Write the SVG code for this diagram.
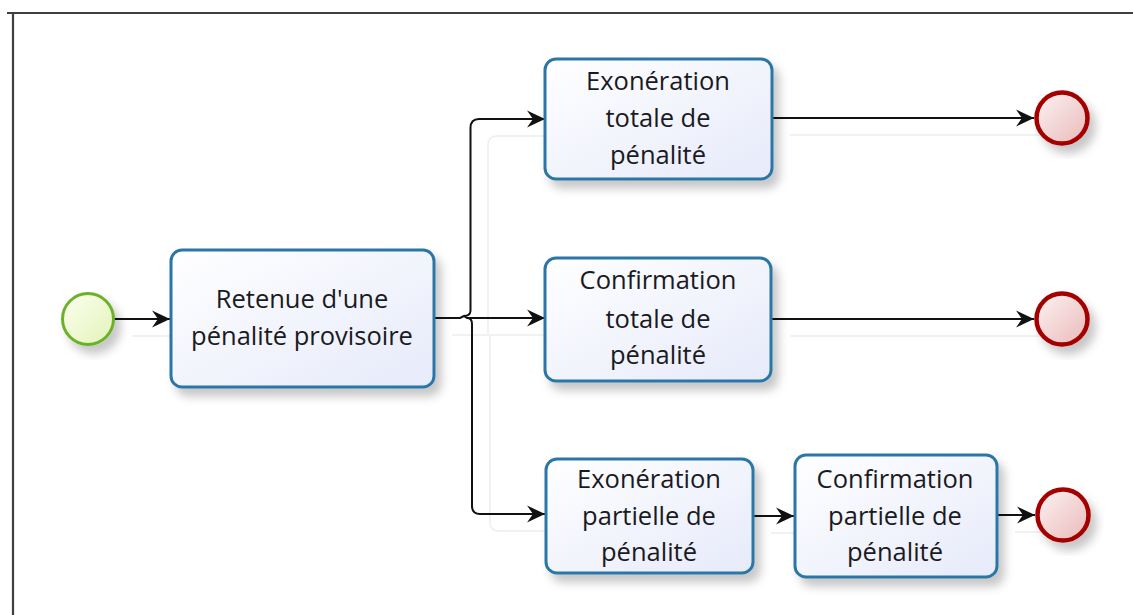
<svg xmlns="http://www.w3.org/2000/svg" width="1133" height="615" viewBox="0 0 1133 615">
  <defs>
    <style>
      .task { fill: url(#taskFill); stroke: #2b77a7; stroke-width: 3; filter: url(#shadow); }
      .label { font-family: "Open Sans", "Noto Sans", sans-serif; font-size: 25.5px; fill: #1a1a22; text-anchor: middle; }
      .flow { fill: none; stroke: #111; stroke-width: 2; }
      .flow-shadow { fill: none; stroke: #eeeeee; stroke-width: 1.5; }
      .start { fill: url(#startFill); stroke: #6cb12a; stroke-width: 3; filter: url(#shadow); }
      .end { fill: url(#endFill); stroke: #a40004; stroke-width: 4.5; filter: url(#shadow); }
      .frame { fill: none; stroke: #3f3f3f; stroke-width: 2.2; }
    </style>
    <linearGradient id="taskFill" x1="0" y1="0" x2="1" y2="1">
      <stop offset="0" stop-color="#ffffff"/>
      <stop offset="1" stop-color="#e6eafa"/>
    </linearGradient>
    <linearGradient id="startFill" x1="0" y1="0" x2="1" y2="1">
      <stop offset="0" stop-color="#fbfff0"/>
      <stop offset="1" stop-color="#e3f3b8"/>
    </linearGradient>
    <linearGradient id="endFill" x1="0" y1="0" x2="1" y2="1">
      <stop offset="0" stop-color="#fdf3f3"/>
      <stop offset="1" stop-color="#eab9b9"/>
    </linearGradient>
    <filter id="shadow" x="-20%" y="-20%" width="150%" height="150%">
      <feDropShadow dx="6" dy="8" stdDeviation="5" flood-color="#000" flood-opacity="0.22"/>
    </filter>
    <marker id="arrow" markerWidth="20" markerHeight="18" refX="18" refY="9" orient="auto" markerUnits="userSpaceOnUse">
      <path d="M0,0.5 L18,9 L0,17.5 L6,9 z" fill="#111"/>
    </marker>
  </defs>

  <!-- pool frame -->
  <path class="frame" d="M7,13 H1133 M13,13 V615"/>

  <!-- faint connector shadows -->
  <g id="flow-shadows" transform="translate(18,17)">
    <path class="flow-shadow" d="M114,319 H170"/>
    <path class="flow-shadow" d="M434,318 H545"/>
    <path class="flow-shadow" d="M470,318 V128 Q470,119 479,119 H545"/>
    <path class="flow-shadow" d="M472,318 V505 Q472,514 481,514 H545"/>
    <path class="flow-shadow" d="M772,118 H1034"/>
    <path class="flow-shadow" d="M772,319 H1034"/>
    <path class="flow-shadow" d="M753,516 H794"/>
    <path class="flow-shadow" d="M997,515 H1034"/>
  </g>

  <!-- sequence flows -->
  <g id="connectors">
    <path class="flow" d="M114,319 H170" marker-end="url(#arrow)"/>
    <path class="flow" d="M434,318 H460 L464,316 L467,318 H545" marker-end="url(#arrow)"/>
    <path class="flow" d="M464,316 Q470,316 470.5,311 V128 Q470.5,119 479,119 H545" marker-end="url(#arrow)"/>
    <path class="flow" d="M467,318 Q472,318 472,324 V506 Q472,514 480,514 H545" marker-end="url(#arrow)"/>
    <path class="flow" d="M772,118 H1034" marker-end="url(#arrow)"/>
    <path class="flow" d="M772,319 H1034" marker-end="url(#arrow)"/>
    <path class="flow" d="M753,516 H794" marker-end="url(#arrow)"/>
    <path class="flow" d="M997,515 H1035" marker-end="url(#arrow)"/>
  </g>

  <g id="start-event">
    <circle class="start" cx="88" cy="319" r="25.5"/>
  </g>

  <g id="task-retenue">
    <rect class="task" x="171" y="250" width="263" height="137" rx="11"/>
    <text class="label" x="302" y="308">Retenue d'une</text>
    <text class="label" x="302" y="345">pénalité provisoire</text>
  </g>

  <g id="task-exoneration-totale">
    <rect class="task" x="545" y="59" width="227" height="120" rx="11"/>
    <text class="label" x="658" y="90">Exonération</text>
    <text class="label" x="658" y="127">totale de</text>
    <text class="label" x="658" y="164">pénalité</text>
  </g>

  <g id="task-confirmation-totale">
    <rect class="task" x="545" y="258" width="226" height="123" rx="11"/>
    <text class="label" x="658" y="289">Confirmation</text>
    <text class="label" x="658" y="328">totale de</text>
    <text class="label" x="658" y="364">pénalité</text>
  </g>

  <g id="task-exoneration-partielle">
    <rect class="task" x="546" y="459" width="207" height="114" rx="11"/>
    <text class="label" x="649" y="488">Exonération</text>
    <text class="label" x="649" y="525">partielle de</text>
    <text class="label" x="649" y="561">pénalité</text>
  </g>

  <g id="task-confirmation-partielle">
    <rect class="task" x="795" y="455" width="202" height="122" rx="11"/>
    <text class="label" x="895" y="488">Confirmation</text>
    <text class="label" x="895" y="525">partielle de</text>
    <text class="label" x="895" y="561">pénalité</text>
  </g>

  <g id="end-exoneration-totale">
    <circle class="end" cx="1062" cy="118" r="25.5"/>
  </g>
  <g id="end-confirmation-totale">
    <circle class="end" cx="1062" cy="319" r="25.5"/>
  </g>
  <g id="end-partielle">
    <circle class="end" cx="1063" cy="515" r="25.5"/>
  </g>
</svg>
